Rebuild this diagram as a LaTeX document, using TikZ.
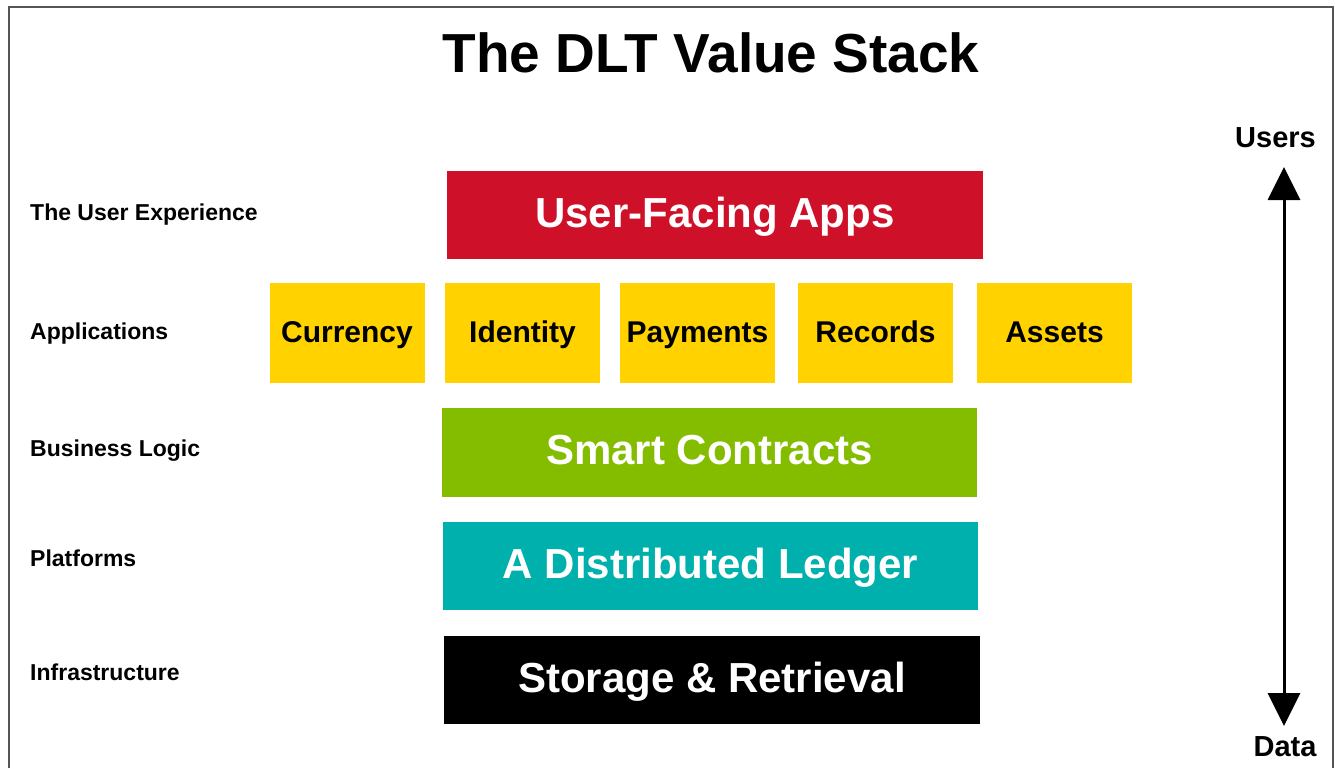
\documentclass[tikz,border=0pt]{standalone}
\usepackage{fontspec}
\setmainfont{Liberation Sans}
\usetikzlibrary{arrows.meta}
\definecolor{appred}{HTML}{CE1029}
\definecolor{appyellow}{HTML}{FFD200}
\definecolor{appgreen}{HTML}{84BD00}
\definecolor{appteal}{HTML}{00B0AC}
\definecolor{framegray}{HTML}{555555}
\begin{document}
\begin{tikzpicture}[x=1pt,y=-1pt,
  layer/.style={rectangle,inner sep=0pt,text=white,font=\fontsize{42}{46}\selectfont\bfseries,
    text height=30.2pt,text depth=6pt},
  appbox/.style={rectangle,fill=appyellow,inner sep=0pt,minimum width=155pt,minimum height=100pt,
    font=\fontsize{30}{34}\selectfont\bfseries,text height=21.6pt,text depth=3pt},
  sidelabel/.style={anchor=west,inner sep=0pt,font=\fontsize{23}{26}\selectfont\bfseries,
    text height=16.5pt,text depth=0pt},
  endlabel/.style={inner sep=0pt,font=\fontsize{29}{32}\selectfont\bfseries,text height=20.9pt,text depth=0pt}]
\useasboundingbox (0,0) rectangle (1335,768);
\fill[white] (0,0) rectangle (1335,768);
\draw[framegray,line width=2pt] (8.5,768) -- (8.5,7.5) -- (1332.5,7.5) -- (1332.5,768);
% title
\node[inner sep=0pt,font=\fontsize{55}{60}\selectfont\bfseries,text height=39.6pt,text depth=0pt] (title) at (711,53) {The DLT Value Stack};
% layers
\node[layer,fill=appred,minimum width=536pt,minimum height=88pt] (ux) at (715,215) {User-Facing Apps};
\node[appbox] (currency) at (347,333) {Currency};
\node[appbox] (identity) at (522.5,333) {Identity};
\node[appbox] (payments) at (697.5,333) {Payments};
\node[appbox] (records) at (875.5,333) {Records};
\node[appbox] (assets) at (1054.5,333) {Assets};
\node[layer,fill=appgreen,minimum width=535pt,minimum height=89pt] (smart) at (709.5,452.5) {Smart Contracts};
\node[layer,fill=appteal,minimum width=535pt,minimum height=88pt] (ledger) at (710.5,566) {A Distributed Ledger};
\node[layer,fill=black,minimum width=536pt,minimum height=88pt] (storage) at (712,680) {Storage \& Retrieval};
% side labels
\node[sidelabel] (lux) at (30,212) {The User Experience};
\node[sidelabel] (lapp) at (30,331) {Applications};
\node[sidelabel] (lbiz) at (30,448) {Business Logic};
\node[sidelabel] (lplat) at (30,558) {Platforms};
\node[sidelabel] (linfra) at (30,672) {Infrastructure};
% axis
\node[endlabel] (users) at (1275.5,137) {Users};
\node[endlabel] (data) at (1285,746) {Data};
\coordinate (top) at (1284,167);
\coordinate (bottom) at (1284,726);
\draw[line width=3pt,{Triangle[width=32pt,length=33pt]}-{Triangle[width=32pt,length=33pt]}] (bottom) -- (top);
\end{tikzpicture}
\end{document}
